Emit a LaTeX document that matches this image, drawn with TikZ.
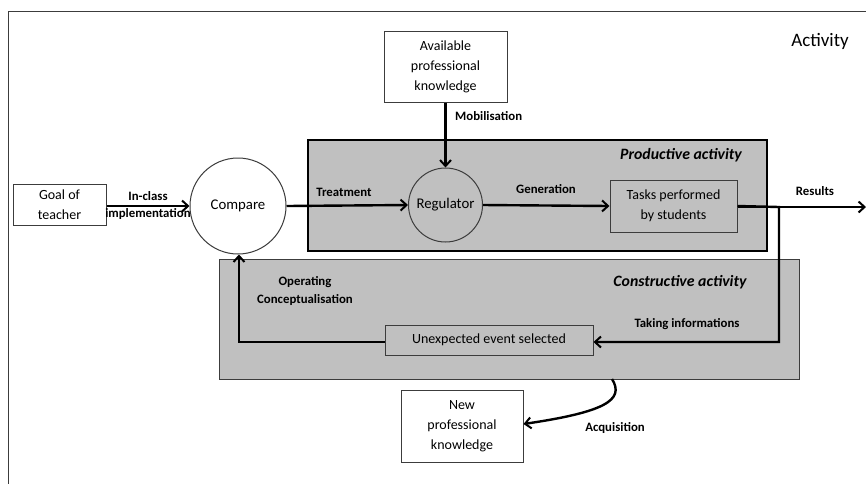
\documentclass[tikz,border=0pt]{standalone}
\usepackage{fontspec}
\setmainfont{Carlito}
\usetikzlibrary{arrows.meta}
\definecolor{boxgray}{RGB}{192,192,192}
\definecolor{edgegray}{RGB}{60,60,60}
\begin{document}
\begin{tikzpicture}[x=1pt,y=-1pt,
  txtbox/.style={draw=edgegray,line width=1pt,fill=white,align=center,font=\fontsize{14}{20}\selectfont,inner sep=0pt},
  circ/.style={circle,draw=edgegray,line width=1pt,inner sep=0pt,font=\fontsize{14.8}{17}\selectfont},
  lab/.style={font=\fontsize{12.8}{17.5}\selectfont\bfseries,align=center,inner sep=0pt},
  ttl/.style={font=\fontsize{15.8}{18}\selectfont\bfseries\itshape,inner sep=0pt},
  conn/.style={line width=2.4pt,-{Straight Barb[length=6pt,width=11pt,line width=2pt]}},
  plain/.style={line width=2.4pt}]
\useasboundingbox (0,0) rectangle (866,483);
% outer frame
\draw[edgegray,line width=1pt] (8,490) -- (8,11) -- (880,11);
\node[font=\fontsize{19}{22}\selectfont,inner sep=0pt] (act) at (820,41) {Activity};
% grey areas
\node[draw=black,line width=2.2pt,fill=boxgray,minimum width=459pt,minimum height=111pt,inner sep=0pt] (prod) at (537.5,195.5) {};
\node[draw=edgegray,line width=1pt,fill=boxgray,minimum width=580pt,minimum height=120pt,inner sep=0pt] (cons) at (509,319) {};
\node[ttl] (prodt) at (681,155) {Productive activity};
\node[ttl] (const) at (680,282) {Constructive activity};
% boxes
\node[txtbox,minimum width=123pt,minimum height=71pt] (avail) at (445.5,66.5) {Available\\professional\\knowledge};
\node[txtbox,minimum width=93pt,minimum height=41pt] (goal) at (59.5,204.5) {Goal of\\teacher};
\node[circ,fill=white,minimum size=96pt] (cmp) at (238,206) {Compare};
\node[circ,fill=boxgray,minimum size=74pt] (reg) at (445.5,205) {Regulator};
\node[txtbox,fill=boxgray,minimum width=127pt,minimum height=52pt] (task) at (673.5,206) {Tasks performed\\by students};
\node[txtbox,fill=boxgray,minimum width=208pt,minimum height=30pt] (unex) at (489,340) {Unexpected event selected};
\node[txtbox,minimum width=122pt,minimum height=72pt] (newk) at (462,426) {New\\professional\\knowledge};
% coordinates
\coordinate (res) at (866,207);
\coordinate (c1) at (779,207);
\coordinate (c2) at (779,342);
\coordinate (c3) at (239,342);
\coordinate (acq) at (612,379);
% connectors
\draw[conn] (goal.east|-cmp.west) -- (cmp.west);
\draw[conn] (cmp.east) -- (reg.west);
\draw[conn] (avail.south) -- (reg.north);
\draw[conn] (reg.east) -- (task.west);
\draw[conn] (task.east|-res) -- (res);
\draw[conn] (task.east) -- (c1) -- (c2) -- (unex.east|-c2);
\draw[conn] (unex.west|-c3) -- (c3) -- (cmp.south-|c3);
\draw[conn] (acq) .. controls (625,400) and (605,412) .. (newk.east|-0,424);
% labels
\node[lab] (l1) at (148,205.5) {In-class\\implementation};
\node[lab] (l2) at (344,192) {Treatment};
\node[lab] (l3) at (546,189) {Generation};
\node[lab,anchor=west] (l4) at (455,116) {Mobilisation};
\node[lab] (l5) at (815,191) {Results};
\node[lab] (l6) at (687,324) {Taking informations};
\node[lab] (l7) at (305,291) {Operating\\Conceptualisation};
\node[lab] (l8) at (615,428) {Acquisition};
\end{tikzpicture}
\end{document}
